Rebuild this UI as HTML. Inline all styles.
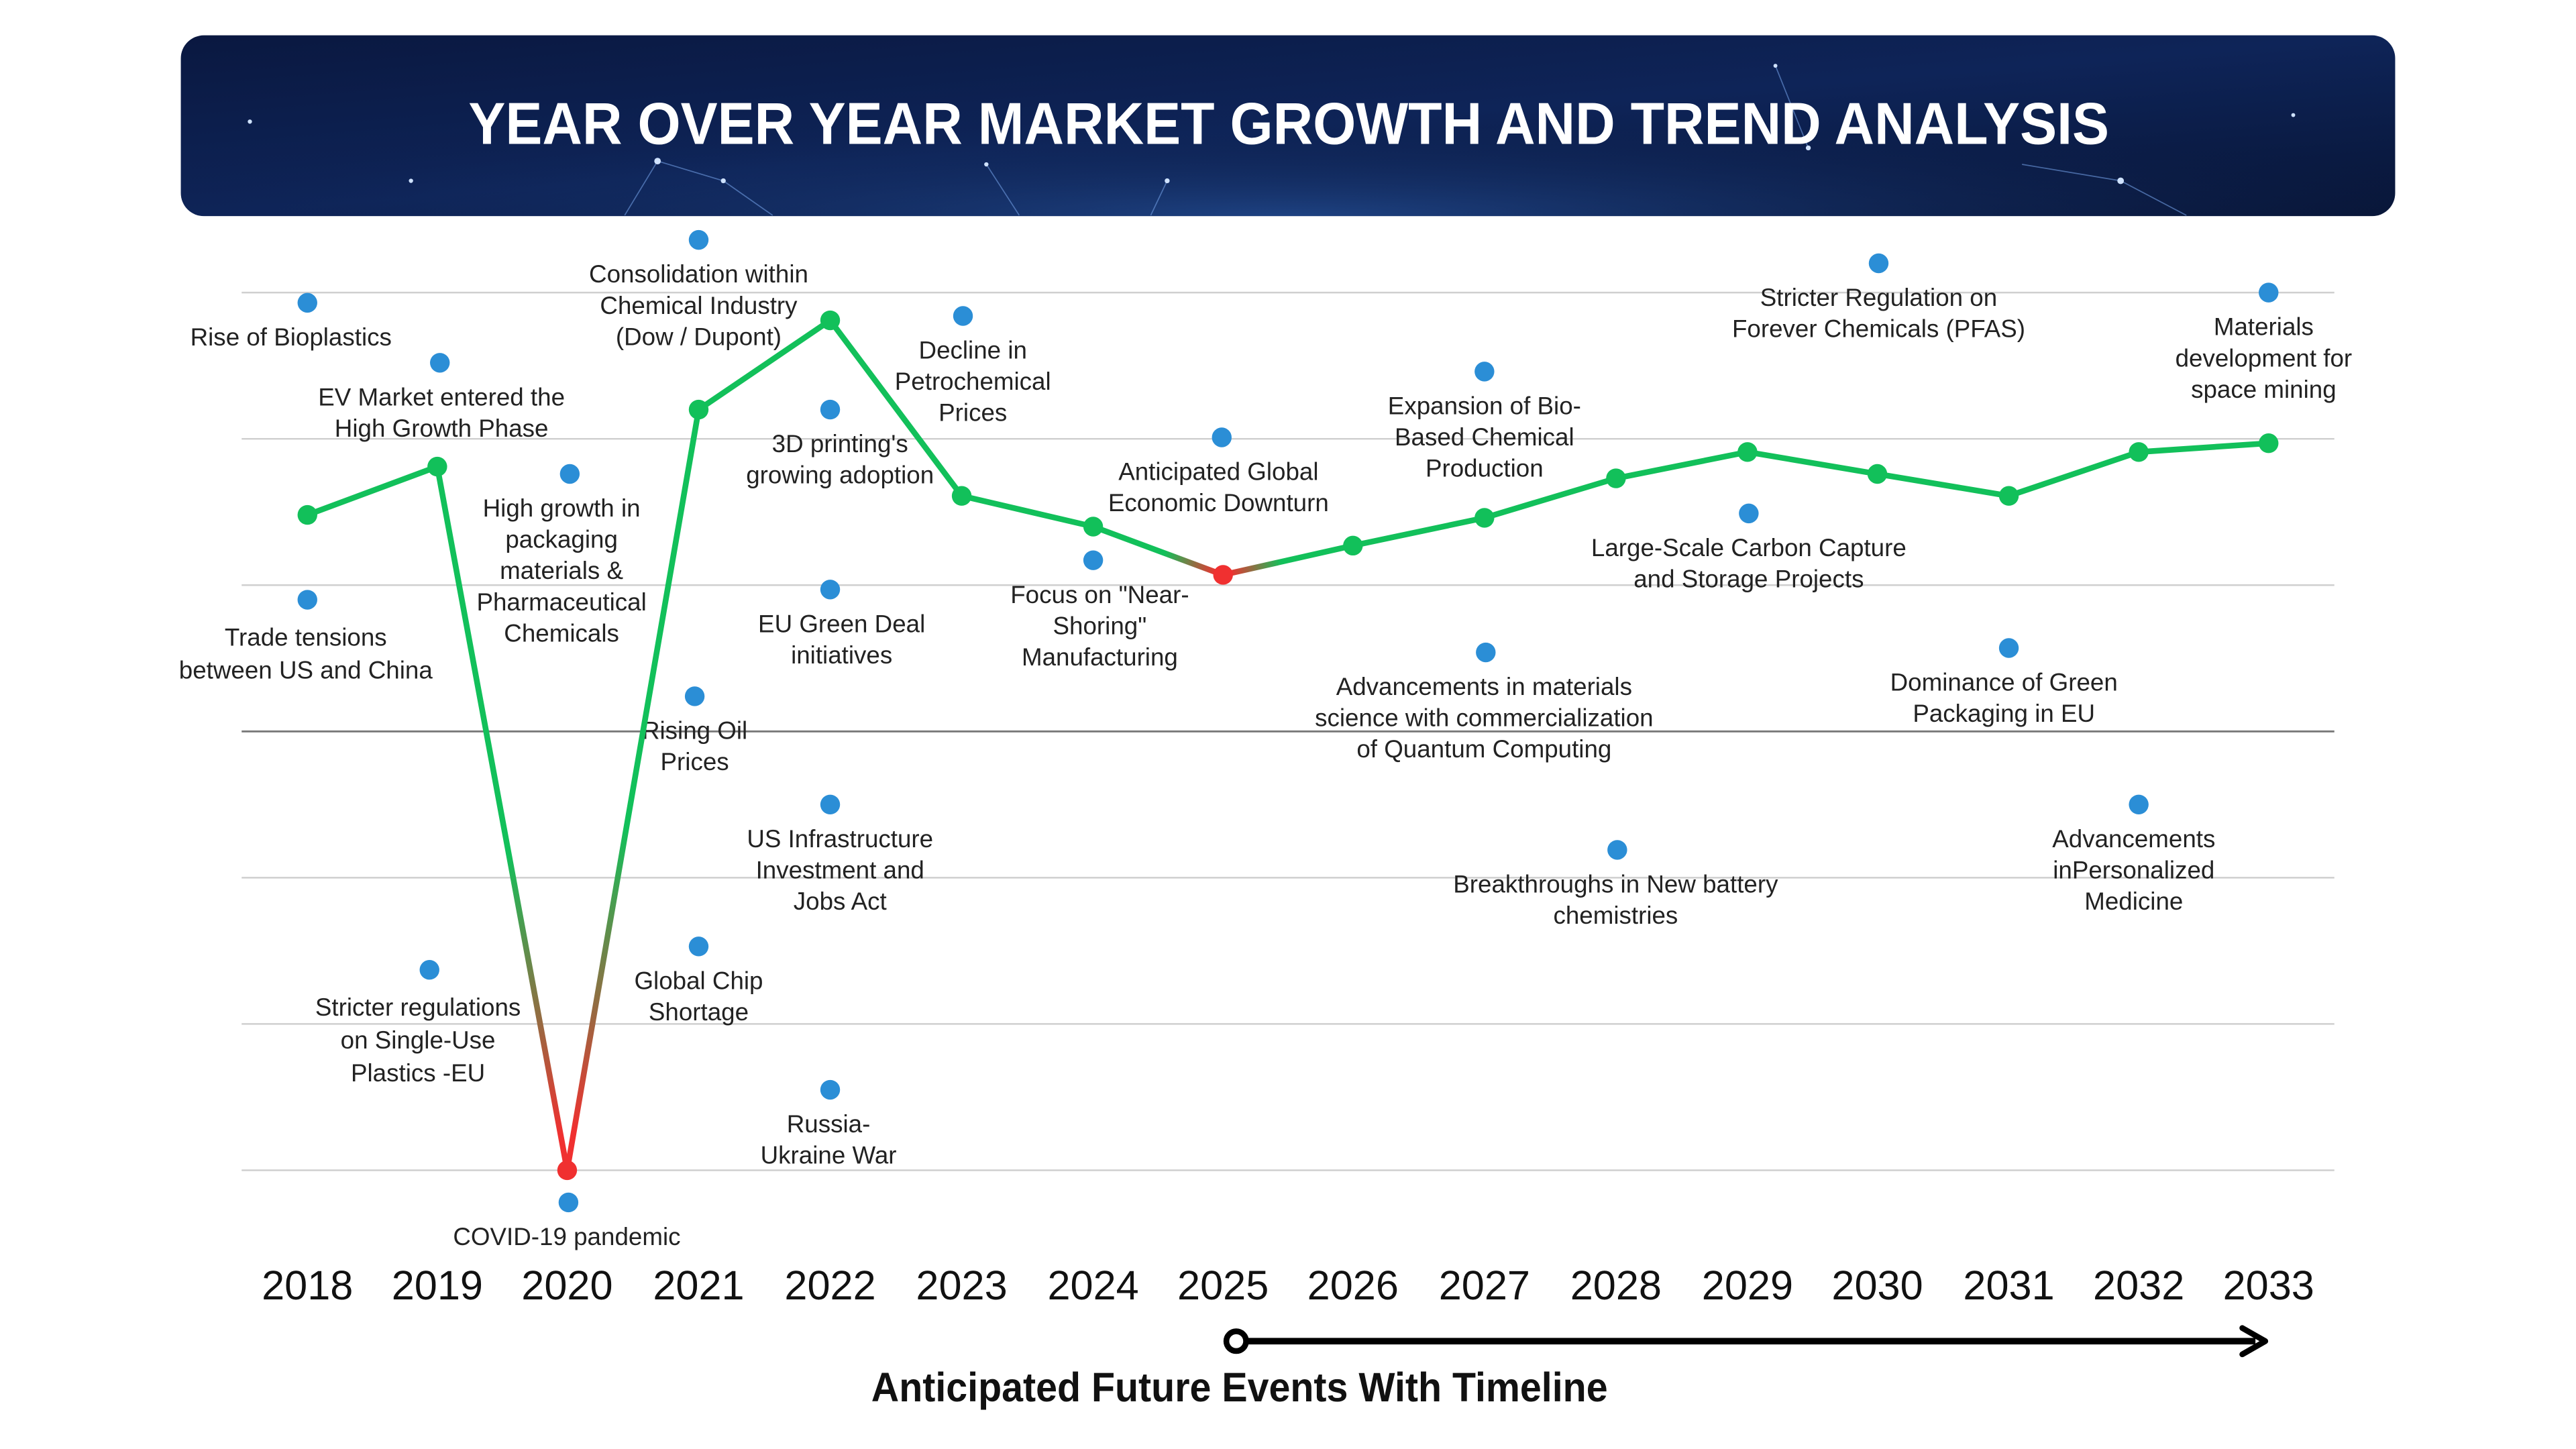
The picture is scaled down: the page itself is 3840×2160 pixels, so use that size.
<!DOCTYPE html>
<html><head><meta charset="utf-8"><style>
html,body{margin:0;padding:0;background:#fff;width:3840px;height:2160px;overflow:hidden}
svg{display:block}
.lbl{font-family:"Liberation Sans Narrow","Liberation Sans",sans-serif;font-size:15px;fill:#222;text-anchor:middle;dominant-baseline:middle}
.yr{font-family:"Liberation Sans Narrow","Liberation Sans",sans-serif;font-size:25px;fill:#111;text-anchor:middle;dominant-baseline:middle}
</style></head><body>
<svg id="chart" width="3840" height="2160" viewBox="0 0 1567 881.6" preserveAspectRatio="none" xmlns="http://www.w3.org/2000/svg">
<defs>
<linearGradient id="bg" x1="0" y1="0" x2="1" y2="1"><stop offset="0" stop-color="#0a1840"/><stop offset="0.5" stop-color="#0e2458"/><stop offset="1" stop-color="#081536"/></linearGradient>
<radialGradient id="glow" cx="0.5" cy="1" r="0.6"><stop offset="0" stop-color="#2a5aa8" stop-opacity="0.6"/><stop offset="1" stop-color="#0a1840" stop-opacity="0"/></radialGradient>
</defs>
<g>
<rect x="110" y="21.5" width="1347" height="110" rx="14" fill="url(#bg)"/>
<rect x="110" y="21.5" width="1347" height="110" rx="14" fill="url(#glow)"/>
<g stroke="#6f9be0" stroke-width="0.7" opacity="0.6">
<line x1="380" y1="131" x2="400" y2="98"/><line x1="400" y1="98" x2="440" y2="110"/><line x1="440" y1="110" x2="470" y2="131"/>
<line x1="1080" y1="40" x2="1100" y2="90"/><line x1="1230" y1="100" x2="1290" y2="110"/><line x1="1290" y1="110" x2="1330" y2="131"/>
<line x1="600" y1="100" x2="620" y2="131"/><line x1="700" y1="131" x2="710" y2="110"/>
</g>
<g fill="#cfe2ff">
<circle cx="400" cy="98" r="2"/><circle cx="440" cy="110" r="1.5"/><circle cx="1290" cy="110" r="2"/><circle cx="1100" cy="90" r="1.5"/><circle cx="152" cy="74" r="1.3"/><circle cx="250" cy="110" r="1.3"/><circle cx="710" cy="110" r="1.5"/><circle cx="1395" cy="70" r="1.2"/><circle cx="1080" cy="40" r="1.2"/><circle cx="600" cy="100" r="1.3"/>
</g>
<text x="784" y="78" fill="#fff" font-family="'Liberation Sans Narrow','Liberation Sans',sans-serif" font-weight="bold" font-size="36" text-anchor="middle" dominant-baseline="middle" textLength="998" lengthAdjust="spacingAndGlyphs">YEAR OVER YEAR MARKET GROWTH AND TREND ANALYSIS</text>
</g>
<g id="grid"></g>
<g id="years"></g>
<g id="events"></g>
<g id="line"></g>
<g>
<line x1="758" y1="816" x2="1372" y2="816" stroke="#000" stroke-width="4"/>
<path d="M1364,808 L1378,816 L1364,824" fill="none" stroke="#000" stroke-width="3.5" stroke-linecap="round" stroke-linejoin="round"/>
<circle cx="752" cy="816" r="6" fill="#fff" stroke="#000" stroke-width="3.5"/>
</g>
<text x="754" y="846" font-family="'Liberation Sans Narrow','Liberation Sans',sans-serif" font-weight="bold" font-size="25" fill="#111" text-anchor="middle" dominant-baseline="middle" textLength="448" lengthAdjust="spacingAndGlyphs">Anticipated Future Events With Timeline</text>
</svg>
<script>
const years = [2018,2019,2020,2021,2022,2023,2024,2025,2026,2027,2028,2029,2030,2031,2032,2033];
const growth = [14.8,18.1,-30,22,28.1,16.1,14,10.7,12.7,14.6,17.3,19.1,17.6,16.1,19.1,19.7];
const redYears = [2020,2025];
const gridValues = [30,20,10,0,-10,-20,-30];
const eventYear = [2018,2019.02,2018,2020.02,2018.94,2020.01,2021,2020.97,2021,2022,2022,2022,2022,2023.01,2024,2024.99,2027,2027.01,2028.01,2029.01,2030.01,2031,2032,2033];
const eventValue = [29.3,25.2,9.0,17.6,-16.3,-32.2,33.6,2.4,-14.7,22.0,9.7,-5,-24.5,28.4,11.7,20.1,24.6,5.4,-8.1,14.9,32.0,5.7,-5,30.0];
const eventText = [
 ["Rise of Bioplastics"],["EV Market entered the","High Growth Phase"],["Trade tensions","between US and China"],
 ["High growth in","packaging","materials &","Pharmaceutical","Chemicals"],["Stricter regulations","on Single-Use","Plastics -EU"],["COVID-19 pandemic"],
 ["Consolidation within","Chemical Industry","(Dow / Dupont)"],["Rising Oil","Prices"],["Global Chip","Shortage"],
 ["3D printing's","growing adoption"],["EU Green Deal","initiatives"],["US Infrastructure","Investment and","Jobs Act"],["Russia-","Ukraine War"],
 ["Decline in","Petrochemical","Prices"],["Focus on \"Near-","Shoring\"","Manufacturing"],["Anticipated Global","Economic Downturn"],
 ["Expansion of Bio-","Based Chemical","Production"],["Advancements in materials","science with commercialization","of Quantum Computing"],
 ["Breakthroughs in New battery","chemistries"],["Large-Scale Carbon Capture","and Storage Projects"],["Stricter Regulation on","Forever Chemicals (PFAS)"],
 ["Dominance of Green","Packaging in EU"],["Advancements","inPersonalized","Medicine"],["Materials","development for","space mining"]];
const eventDx = [-10,1,-1,-5,-7,-1,0,0,0,6,7,6,-1,6,4,-2,0,-1,-1,0,0,-3,-3,-3];

const NS="http://www.w3.org/2000/svg";
const xs = {2018:187,2019:266,2020:345,2021:425,2022:505,2023:585,2024:665,2025:744,2026:823,2027:903,2028:983,2029:1063,2030:1142,2031:1222,2032:1301,2033:1380};
function x(yr){const a=Math.floor(yr),b=Math.min(a+1,2033);const f=yr-a;return xs[a]+(xs[b]-xs[a])*f;}
function y(v){return 445 - v*8.9;}
function mk(t,attrs,parent){const e=document.createElementNS(NS,t);for(const k in attrs)e.setAttribute(k,attrs[k]);parent.appendChild(e);return e;}

const grid=document.getElementById('grid');
gridValues.forEach(v=>{
 const l=mk('line',{x1:147,x2:1420,y1:y(v),y2:y(v),stroke:v===0?'#777':'#cfcfcf','stroke-width':v===0?1.2:1},grid);
 
 
});
const yg=document.getElementById('years');
years.forEach(yr=>{
 const t=mk('text',{x:x(yr),y:784,class:'yr'},yg);t.textContent=yr;
 
 
});
const eg=document.getElementById('events');
eventYear.forEach((yr,i)=>{
 const cx=x(yr),cy=y(eventValue[i]);
 const c=mk('circle',{cx:cx,cy:cy,r:6,fill:'#2b8ed6'},eg);
 
 
 const lines=eventText[i];
 const big=(i===2||i===4);
 const lh=big?20:19, fs=big?17:15;
 lines.forEach((s,j)=>{
  const t=mk('text',{x:cx+eventDx[i],y:cy+22+(big?2:0)+j*lh,class:'lbl','font-size':fs},eg);
  t.textContent=s;
  
  
 });
});
const lg=document.getElementById('line');
const pts=years.map((yr,i)=>[x(yr),y(growth[i])]);
const isLow=years.map(yr=>redYears.includes(yr));
const defs=document.querySelector('defs');
for(let i=0;i<pts.length-1;i++){
 const a=pts[i],b=pts[i+1];
 let stroke='#12c05a';
 if(isLow[i]||isLow[i+1]){
  const id='g'+i;
  const g=mk('linearGradient',{id:id,gradientUnits:'userSpaceOnUse',x1:a[0],y1:a[1],x2:b[0],y2:b[1]},defs);
  if(isLow[i+1]){
   mk('stop',{offset:0,'stop-color':'#12c05a'},g);
   mk('stop',{offset:0.55,'stop-color':'#12c05a'},g);
   mk('stop',{offset:0.95,'stop-color':'#f03030'},g);
   mk('stop',{offset:1,'stop-color':'#f03030'},g);
  } else {
   mk('stop',{offset:0,'stop-color':'#f03030'},g);
   mk('stop',{offset:0.05,'stop-color':'#f03030'},g);
   mk('stop',{offset:0.45,'stop-color':'#12c05a'},g);
   mk('stop',{offset:1,'stop-color':'#12c05a'},g);
  }
  stroke='url(#'+id+')';
 }
 const l=mk('line',{x1:a[0],y1:a[1],x2:b[0],y2:b[1],stroke:stroke,'stroke-width':3.5,'stroke-linecap':'round'},lg);
 
 
}
pts.forEach((p,i)=>{
 const c=mk('circle',{cx:p[0],cy:p[1],r:6,fill:isLow[i]?'#f03030':'#12c05a'},lg);
 
 
});
</script>
</body></html>
